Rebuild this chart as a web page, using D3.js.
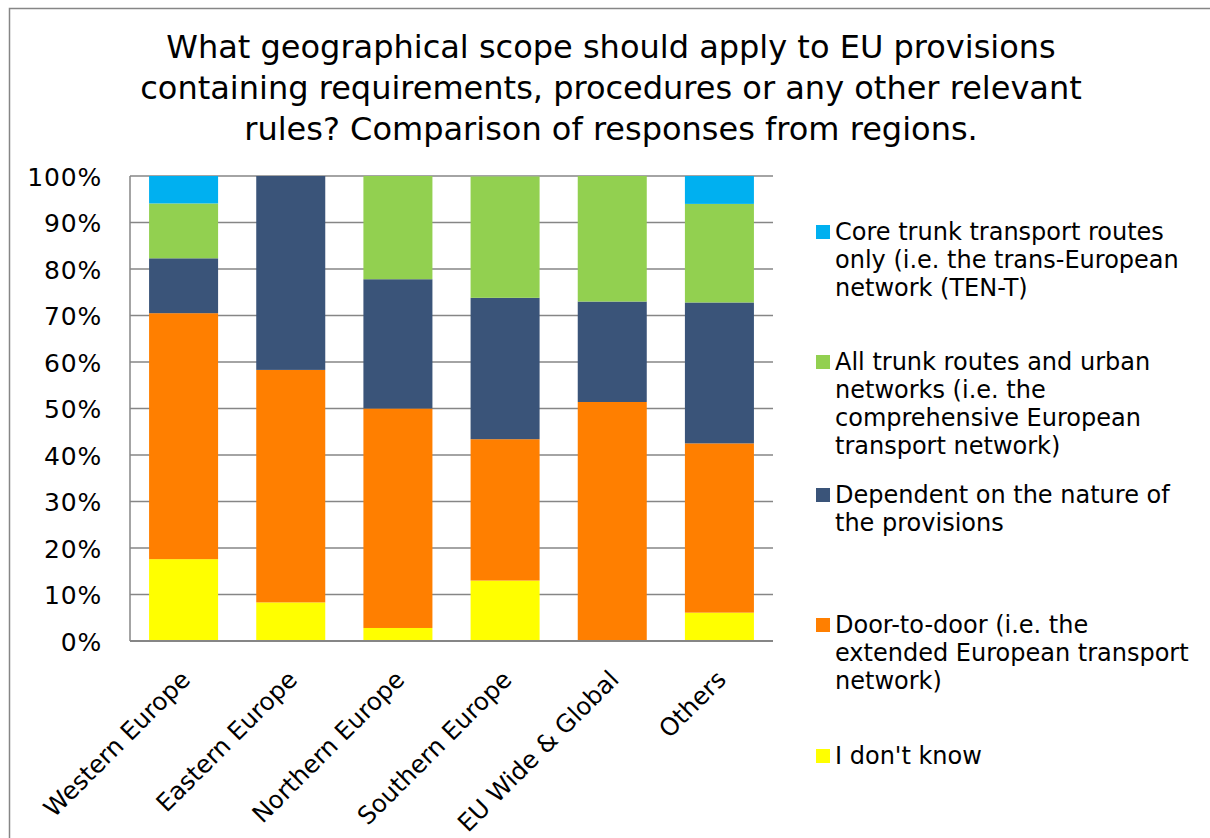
<!DOCTYPE html>
<html><head><meta charset="utf-8">
<script src="https://cdn.jsdelivr.net/npm/d3@7"></script>
<style>body{margin:0;background:#fff;} svg{display:block;font-family:"DejaVu Sans",Verdana,sans-serif;}</style>
</head><body>
<svg id="c" width="1210" height="838"></svg>
<script>
const titleLines = ["What geographical scope should apply to EU provisions","containing requirements, procedures or any other relevant","rules? Comparison of responses from regions."];
const categories = ["Western Europe","Eastern Europe","Northern Europe","Southern Europe","EU Wide & Global","Others"];
const seriesNames = ["I don't know","Door-to-door (i.e. the extended European transport network)","Dependent on the nature of the provisions","All trunk routes and urban networks (i.e. the comprehensive European transport network)","Core trunk transport routes only (i.e. the trans-European network (TEN-T)"];
const dontKnow   = [17.6, 8.3, 2.8, 13.0, 0, 6.1];
const doorToDoor = [52.9, 50.0, 47.2, 30.4, 51.4, 36.4];
const dependent  = [11.8, 41.7, 27.8, 30.4, 21.6, 30.3];
const allTrunk   = [11.8, 0, 22.2, 26.1, 27.0, 21.2];
const coreTrunk  = [5.9, 0, 0, 0, 0, 6.1];
const colors = ["#FFFF00","#FF7F00","#3A5479","#92D050","#00B0F0"];
const yTicks = [0,10,20,30,40,50,60,70,80,90,100];
const legendLines = [
  ["Core trunk transport routes","only (i.e. the trans-European","network (TEN-T)"],
  ["All trunk routes and urban","networks (i.e. the","comprehensive European","transport network)"],
  ["Dependent on the nature of","the provisions"],
  ["Door-to-door (i.e. the","extended European transport","network)"],
  ["I don't know"]
];
const legendColorIdx = [4,3,2,1,0];
const legendBaselines = [240,370,503,633,764];

(function(){
const svg = d3.select("#c");
svg.append("rect").attr("x",9.5).attr("y",8.5).attr("width",1220).attr("height",850)
  .attr("fill","#fff").attr("stroke","#868686").attr("stroke-width",1.5);

const t = svg.append("text").attr("text-anchor","middle").attr("font-size",32).attr("fill","#000");
titleLines.forEach((l,i)=>t.append("tspan").attr("x",611).attr("y",58+i*41).text(l));

const pL=130,pR=773,pT=176,pB=641;
const x = d3.scaleBand().domain(categories).range([pL,pR]).paddingInner(0.356).paddingOuter(0.178);
const y = d3.scaleLinear().domain([0,100]).range([pB,pT]);

svg.append("g").selectAll("line").data(yTicks).join("line")
  .attr("x1",pL).attr("x2",pR).attr("y1",d=>y(d)).attr("y2",d=>y(d))
  .attr("stroke","#868686").attr("stroke-width",1.5);

const table = categories.map((c,i)=>({cat:c, s0:dontKnow[i], s1:doorToDoor[i], s2:dependent[i], s3:allTrunk[i], s4:coreTrunk[i]}));
const stack = d3.stack().keys(["s0","s1","s2","s3","s4"])(table);
stack.forEach((layer,k)=>{
  svg.append("g").attr("fill",colors[k]).selectAll("rect").data(layer).join("rect")
    .attr("x",d=>x(d.data.cat)).attr("width",x.bandwidth())
    .attr("y",d=>y(Math.min(100,d[1]))).attr("height",d=>Math.max(0,y(d[0])-y(Math.min(100,d[1]))));
});

svg.append("line").attr("x1",pL).attr("x2",pL).attr("y1",pT).attr("y2",pB).attr("stroke","#868686").attr("stroke-width",1.5);
svg.append("line").attr("x1",pL).attr("x2",pR).attr("y1",pB).attr("y2",pB).attr("stroke","#868686").attr("stroke-width",2);

const yAxis = d3.axisLeft(y).tickValues(yTicks).tickFormat(d=>d+"%").tickSize(0).tickPadding(28);
const ga = svg.append("g").attr("transform",`translate(${pL},0)`).call(yAxis);
ga.select(".domain").remove();
ga.selectAll("text").attr("font-size",25).attr("letter-spacing","0.8px").attr("font-family","DejaVu Sans, Verdana, sans-serif").attr("fill","#000").attr("dy","0.36em");

const xAxis = d3.axisBottom(x).tickSize(0).tickPadding(0);
const gx = svg.append("g").attr("transform",`translate(0,${pB})`).call(xAxis);
gx.select(".domain").remove();
gx.selectAll("text").attr("font-size",24.5).attr("font-family","DejaVu Sans, Verdana, sans-serif").attr("fill","#000")
  .attr("text-anchor","end").attr("dy",0).attr("y",0)
  .attr("transform","translate(8,40) rotate(-45)");

const lg = svg.append("g");
legendLines.forEach((lines,i)=>{
  const by = legendBaselines[i];
  lg.append("rect").attr("x",816).attr("y",by-15).attr("width",14).attr("height",14).attr("fill",colors[legendColorIdx[i]]);
  const tx = lg.append("text").attr("font-size",24).attr("fill","#000");
  lines.forEach((l,j)=>tx.append("tspan").attr("x",835).attr("y",by+j*28).text(l));
});
})();
</script>
</body></html>
